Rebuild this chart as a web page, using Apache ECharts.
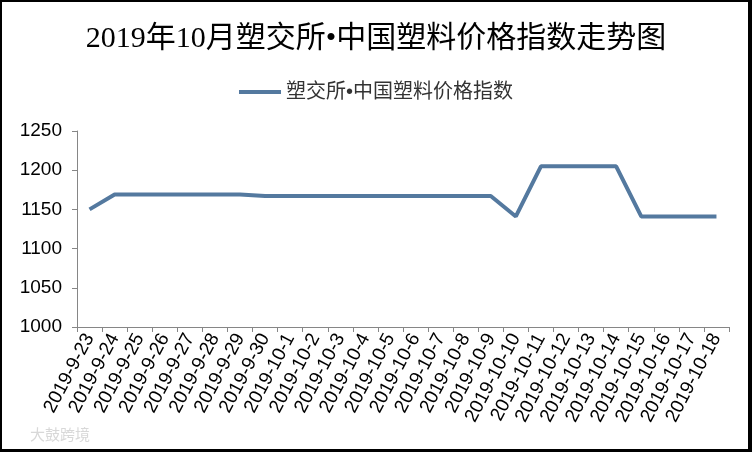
<!DOCTYPE html>
<html><head><meta charset="utf-8">
<script src="https://cdn.jsdelivr.net/npm/echarts@6/dist/echarts.min.js"></script>
<style>
html,body{margin:0;padding:0;background:#fff;}
#wrap{position:relative;width:752px;height:452px;}
#c{position:absolute;left:0;top:0;width:752px;height:452px;}
#frame{position:absolute;left:0;top:0;width:752px;height:452px;box-sizing:border-box;border-left:2px solid #000;border-top:2px solid #000;border-right:4px solid #000;border-bottom:3px solid #000;pointer-events:none;}
</style></head>
<body><div id="wrap"><div id="c"></div><div id="frame"></div></div>
<script>
const titleText = '2019年10月塑交所•中国塑料价格指数走势图';
const seriesName = '塑交所•中国塑料价格指数';
const categories = ['2019-9-23','2019-9-24','2019-9-25','2019-9-26','2019-9-27','2019-9-28','2019-9-29','2019-9-30',
  '2019-10-1','2019-10-2','2019-10-3','2019-10-4','2019-10-5','2019-10-6','2019-10-7','2019-10-8','2019-10-9',
  '2019-10-10','2019-10-11','2019-10-12','2019-10-13','2019-10-14','2019-10-15','2019-10-16','2019-10-17','2019-10-18'];
const values = [1150,1169,1169,1169,1169,1169,1169,1167,
  1167,1167,1167,1167,1167,1167,1167,1167,1167,
  1141,1205,1205,1205,1205,1141,1141,1141,1141];
const yTicks = {min:1000, max:1250, interval:50};
const watermark = '大鼓跨境';

const chart = echarts.init(document.getElementById('c'));
chart.setOption({
  animation:false,
  backgroundColor:'#fff',
  title:{text:titleText,left:'center',top:19,
    textStyle:{fontFamily:'"Liberation Serif","Noto Sans CJK SC",serif',fontSize:30,fontWeight:'normal',color:'#000'}},
  legend:{top:77,left:'center',itemWidth:42,itemHeight:4,icon:'rect',itemGap:6,
    data:[seriesName],
    textStyle:{fontFamily:'"Liberation Sans","Noto Sans CJK SC",sans-serif',fontSize:20,color:'#333'}},
  grid:{left:77,right:23,top:131,bottom:125,containLabel:false},
  xAxis:{type:'category',data:categories,boundaryGap:true,
    axisLine:{lineStyle:{color:'#868686',width:1}},
    axisTick:{show:true,length:5,lineStyle:{color:'#868686'}},
    axisLabel:{rotate:62,interval:0,margin:8,fontFamily:'"Liberation Sans",sans-serif',fontSize:19,color:'#000'}},
  yAxis:{type:'value',min:yTicks.min,max:yTicks.max,interval:yTicks.interval,
    axisLine:{show:true,lineStyle:{color:'#868686',width:1}},
    axisTick:{show:true,length:5,lineStyle:{color:'#868686'}},
    splitLine:{show:false},
    axisLabel:{margin:15,formatter:function(v){return String(v);},fontFamily:'"Liberation Sans",sans-serif',fontSize:19,color:'#000'}},
  graphic:[{type:'text',left:30,top:427,style:{text:watermark,fontSize:15,fill:'#d8d8d8',fontFamily:'"Noto Sans CJK SC",sans-serif'}}],
  series:[{name:seriesName,type:'line',data:values,symbol:'none',
    lineStyle:{color:'#54799f',width:4},itemStyle:{color:'#54799f'}}]
});
</script></body></html>
